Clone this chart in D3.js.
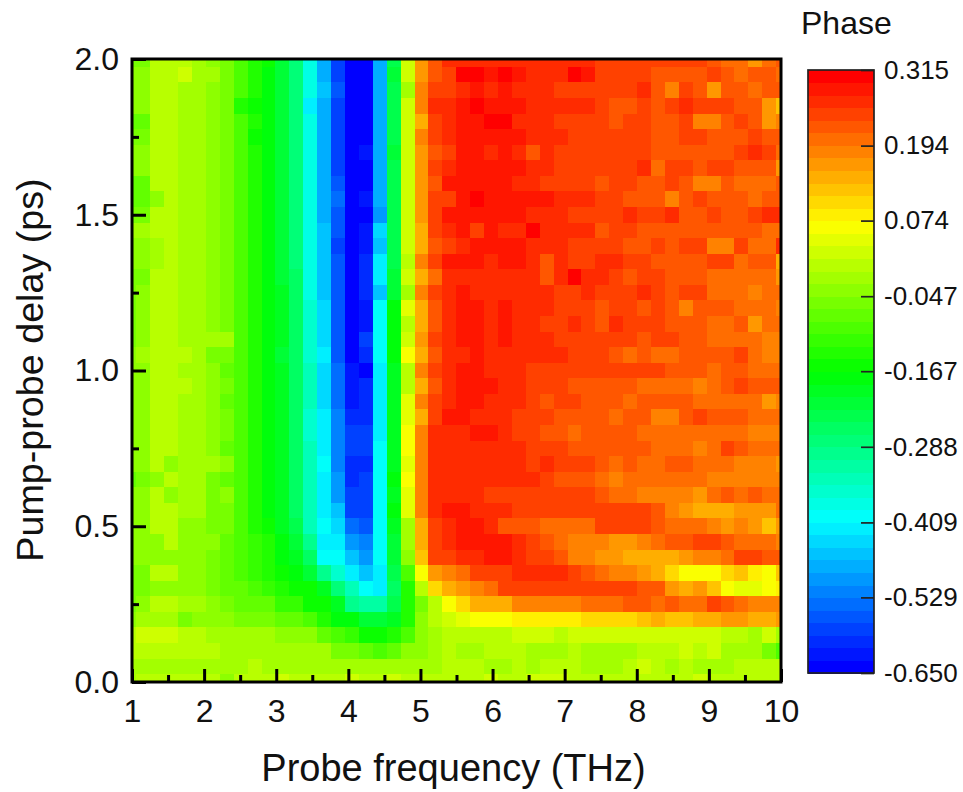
<!DOCTYPE html>
<html>

<head>
    <meta charset="utf-8">
    <title>Phase map</title>
    <script src="https://d3js.org/d3.v7.min.js"></script>
    <style>
        body {
            margin: 0;
            background: white;
        }

        text {
            font-family: "Liberation Sans", Arial, sans-serif;
            fill: #111;
        }
    </style>
</head>

<body>
    <svg id="chart" width="963" height="792"></svg>

    <script>
        // probe frequency of each column, THz
        const freq = [.965, 1.157, 1.350, 1.543, 1.736, 1.929, 2.122, 2.315, 2.507, 2.700, 2.893, 3.086,
            3.279, 3.472, 3.665, 3.858, 4.050, 4.243, 4.436, 4.629, 4.822, 5.015, 5.208, 5.400,
            5.593, 5.786, 5.979, 6.172, 6.365, 6.558, 6.750, 6.943, 7.136, 7.329, 7.522, 7.715,
            7.908, 8.100, 8.293, 8.486, 8.679, 8.872, 9.065, 9.258, 9.450, 9.643, 9.836, 10.029];

        // pump-probe delay of each row, ps, top row first
        const delay = [2, 1.95, 1.9, 1.85, 1.8, 1.75, 1.7, 1.65, 1.6, 1.55, 1.5, 1.45, 1.4, 1.35, 1.3, 1.25, 1.2,
            1.15, 1.1, 1.05, 1, .95, .9, .85, .8, .75, .7, .65, .6, .55, .5, .45, .4, .35, .3, .25, .2, .15, .1, .05, 0];

        // phase, one line per delay
        const phase = [
            [-.05, -.05, .01, .01, .01, -.01, -.03, -.05, -.09, -.13, -.15, -.21, -.27, -.37, -.47, -.57, -.63, -.63, -.47, -.23, .03, .17, .23, .27, .27, .27, .27, .27, .27, .27, .27, .27, .27, .27, .25, .25, .25, .25, .25, .25, .25, .25, .23, .21, .21, .17, .21, .23],
            [-.03, -.03, .01, .01, .03, -.01, -.01, -.05, -.09, -.13, -.17, -.21, -.27, -.37, -.47, -.57, -.65, -.65, -.47, -.21, .03, .17, .23, .25, .31, .31, .29, .31, .29, .27, .27, .27, .31, .29, .25, .25, .25, .25, .23, .23, .23, .23, .25, .23, .21, .23, .23, .21],
            [-.03, -.03, .01, .01, -.01, -.01, -.03, -.05, -.09, -.13, -.17, -.21, -.27, -.37, -.45, -.55, -.63, -.63, -.47, -.23, -.01, .19, .25, .25, .27, .29, .27, .29, .27, .27, .27, .25, .25, .25, .25, .25, .25, .27, .23, .19, .25, .23, .17, .23, .23, .21, .23, .23],
            [-.03, -.03, .01, .01, -.01, -.01, -.03, -.05, -.13, -.15, -.17, -.21, -.27, -.41, -.47, -.57, -.65, -.65, -.47, -.23, .03, .19, .27, .27, .29, .31, .29, .29, .29, .27, .27, .27, .27, .27, .25, .23, .23, .25, .23, .25, .27, .25, .25, .25, .23, .23, .17, .13],
            [-.07, -.07, .01, .01, -.01, -.01, -.03, -.05, -.09, -.13, -.17, -.21, -.27, -.37, -.47, -.57, -.65, -.65, -.47, -.23, .03, .15, .25, .27, .29, .29, .31, .31, .27, .27, .27, .25, .25, .25, .25, .23, .25, .25, .23, .23, .25, .19, .19, .23, .25, .23, .17, .19],
            [-.05, -.05, .01, .01, -.01, -.01, -.03, -.05, -.09, -.15, -.17, -.21, -.27, -.37, -.47, -.57, -.65, -.65, -.47, -.23, .03, .19, .25, .27, .29, .29, .29, .29, .29, .27, .27, .27, .25, .25, .25, .25, .25, .25, .23, .23, .25, .25, .23, .23, .23, .25, .23, .23],
            [-.03, -.03, .01, .01, -.01, -.01, -.03, -.05, -.09, -.13, -.17, -.21, -.27, -.37, -.47, -.57, -.65, -.61, -.47, -.21, .03, .17, .23, .25, .29, .29, .27, .29, .27, .23, .27, .25, .25, .25, .25, .25, .25, .25, .23, .23, .23, .23, .23, .23, .25, .27, .25, .21],
            [-.03, -.03, .01, .01, -.01, -.01, -.03, -.05, -.09, -.13, -.17, -.21, -.27, -.37, -.47, -.57, -.65, -.65, -.47, -.23, .03, .17, .25, .27, .29, .29, .29, .29, .29, .27, .27, .25, .25, .25, .25, .25, .25, .27, .21, .25, .25, .23, .25, .25, .23, .23, .23, .17],
            [-.07, -.07, .01, .01, -.01, -.01, -.03, -.05, -.09, -.13, -.17, -.21, -.27, -.37, -.47, -.55, -.63, -.63, -.47, -.23, .03, .17, .23, .29, .29, .29, .29, .29, .27, .27, .25, .25, .25, .25, .23, .25, .25, .23, .23, .25, .23, .19, .19, .23, .21, .21, .21, .23],
            [-.07, -.07, -.03, .01, -.01, -.01, -.03, -.05, -.09, -.13, -.17, -.21, -.27, -.37, -.47, -.53, -.65, -.61, -.47, -.23, .03, .17, .25, .25, .29, .31, .29, .29, .29, .29, .29, .27, .27, .27, .25, .25, .23, .23, .23, .19, .23, .25, .23, .23, .23, .21, .23, .23],
            [-.05, -.05, .01, .01, -.01, -.01, -.03, -.05, -.09, -.13, -.17, -.21, -.27, -.37, -.47, -.55, -.65, -.65, -.49, -.23, .03, .17, .25, .29, .29, .29, .29, .29, .29, .27, .27, .27, .25, .25, .25, .25, .27, .25, .25, .27, .23, .23, .25, .23, .23, .25, .27, .27],
            [-.01, -.01, .01, .01, -.01, -.01, -.03, -.05, -.09, -.13, -.17, -.21, -.27, -.37, -.45, -.55, -.63, -.61, -.43, -.23, .03, .15, .25, .27, .29, .25, .29, .27, .27, .31, .27, .27, .27, .27, .23, .25, .25, .23, .23, .23, .23, .23, .23, .23, .23, .23, .21, .21],
            [-.03, -.03, -.01, .01, -.01, -.01, -.03, -.05, -.09, -.13, -.17, -.21, -.27, -.37, -.45, -.57, -.63, -.61, -.45, -.23, .03, .15, .23, .25, .27, .29, .29, .29, .29, .27, .27, .27, .25, .25, .25, .25, .23, .23, .25, .23, .25, .25, .19, .19, .25, .21, .21, .27],
            [-.03, -.03, -.01, .01, -.01, -.01, -.03, -.05, -.09, -.13, -.17, -.21, -.27, -.37, -.45, -.55, -.63, -.59, -.41, -.23, .01, .19, .25, .29, .29, .29, .27, .29, .29, .27, .23, .27, .25, .25, .27, .27, .25, .25, .23, .23, .23, .23, .25, .25, .21, .23, .23, .15],
            [-.05, -.05, .01, .01, -.01, -.01, -.03, -.05, -.09, -.13, -.17, -.21, -.25, -.37, -.45, -.55, -.63, -.59, -.41, -.21, .03, .15, .21, .27, .27, .27, .27, .27, .27, .27, .23, .27, .31, .27, .27, .25, .23, .25, .25, .23, .23, .23, .21, .21, .21, .21, .21, .17],
            [-.05, -.03, .01, .01, -.01, -.01, -.03, -.05, -.09, -.13, -.17, -.19, -.25, -.37, -.45, -.55, -.65, -.59, -.45, -.21, -.01, .19, .25, .27, .29, .27, .27, .27, .27, .27, .27, .25, .25, .27, .25, .25, .25, .27, .25, .23, .25, .25, .21, .21, .21, .19, .21, .21],
            [-.05, -.03, .01, .01, -.01, -.01, -.03, -.05, -.09, -.13, -.17, -.19, -.25, -.35, -.43, -.55, -.65, -.61, -.39, -.17, .05, .15, .23, .27, .29, .29, .27, .29, .27, .27, .27, .25, .25, .25, .23, .25, .25, .23, .25, .23, .19, .23, .23, .23, .21, .21, .21, .19],
            [-.05, -.03, .01, .01, -.01, -.01, -.03, -.05, -.09, -.13, -.17, -.19, -.25, -.35, -.43, -.55, -.65, -.61, -.39, -.17, .01, .15, .23, .27, .29, .29, .27, .29, .27, .27, .25, .25, .27, .25, .23, .27, .25, .25, .25, .23, .23, .23, .21, .21, .23, .17, .21, .21],
            [-.05, -.03, .01, .01, -.01, -.01, -.01, -.01, -.09, -.13, -.17, -.19, -.25, -.35, -.43, -.55, -.63, -.57, -.39, -.17, .03, .17, .25, .27, .29, .29, .27, .29, .27, .27, .27, .25, .25, .25, .25, .25, .25, .23, .25, .25, .23, .23, .21, .21, .21, .21, .19, .19],
            [-.03, -.01, .01, .01, .01, -.01, -.05, -.05, -.09, -.13, -.17, -.21, -.25, -.35, -.41, -.55, -.63, -.59, -.39, -.17, .07, .15, .23, .27, .27, .29, .27, .27, .27, .27, .27, .27, .25, .25, .25, .23, .21, .23, .21, .21, .23, .23, .23, .23, .25, .21, .19, .19],
            [-.03, -.03, .01, .01, -.01, -.01, -.03, -.07, -.09, -.13, -.17, -.19, -.25, -.33, -.43, -.53, -.61, -.63, -.41, -.19, .01, .19, .25, .27, .29, .29, .27, .27, .27, .25, .25, .25, .25, .25, .25, .25, .25, .25, .25, .23, .23, .23, .21, .23, .23, .21, .21, .21],
            [-.03, -.03, .01, .01, .01, -.01, -.03, -.05, -.09, -.13, -.17, -.19, -.25, -.33, -.43, -.53, -.61, -.59, -.41, -.19, .01, .15, .23, .27, .29, .29, .29, .27, .27, .25, .25, .25, .23, .23, .23, .23, .23, .21, .21, .21, .21, .19, .21, .23, .25, .23, .23, .23],
            [-.03, -.03, .01, .01, -.01, -.01, -.03, -.07, -.09, -.13, -.17, -.19, -.25, -.33, -.43, -.53, -.61, -.59, -.41, -.19, .05, .19, .25, .27, .29, .29, .27, .27, .27, .25, .23, .25, .25, .23, .23, .23, .21, .23, .23, .23, .23, .21, .21, .21, .21, .21, .17, .19],
            [-.03, -.03, .01, .01, -.01, -.01, -.03, -.05, -.09, -.13, -.17, -.19, -.25, -.35, -.41, -.51, -.59, -.59, -.41, -.19, .05, .15, .25, .29, .29, .27, .27, .27, .25, .25, .25, .23, .23, .23, .23, .21, .23, .23, .19, .19, .23, .25, .23, .23, .23, .21, .21, .21],
            [-.03, -.03, .01, .01, -.01, -.01, -.03, -.05, -.09, -.13, -.17, -.19, -.25, -.35, -.41, -.51, -.57, -.57, -.41, -.19, .07, .19, .27, .27, .27, .29, .29, .27, .25, .25, .23, .23, .21, .23, .23, .23, .23, .21, .21, .21, .21, .21, .21, .21, .21, .19, .19, .19],
            [-.03, -.03, .01, .01, -.01, -.01, -.03, -.07, -.09, -.13, -.17, -.19, -.25, -.33, -.41, -.51, -.57, -.57, -.39, -.19, .07, .19, .27, .27, .27, .27, .27, .27, .27, .25, .25, .25, .23, .23, .23, .23, .23, .23, .21, .21, .21, .19, .21, .25, .23, .21, .21, .21],
            [-.03, -.03, .01, -.03, -.01, -.01, -.01, -.03, -.09, -.13, -.17, -.19, -.25, -.33, -.39, -.51, -.59, -.59, -.39, -.19, .05, .19, .27, .27, .27, .27, .27, .27, .27, .25, .27, .25, .25, .25, .23, .21, .23, .21, .21, .23, .23, .21, .21, .21, .19, .19, .19, .17],
            [-.07, -.05, -.03, .01, -.01, -.01, -.05, -.07, -.09, -.13, -.17, -.19, -.25, -.33, -.41, -.49, -.59, -.57, -.39, -.17, .07, .19, .27, .27, .27, .27, .27, .27, .27, .27, .25, .23, .23, .23, .21, .19, .21, .21, .21, .21, .21, .21, .19, .19, .19, .19, .19, .19],
            [-.03, -.03, .01, -.03, -.01, -.01, -.05, -.03, -.09, -.13, -.17, -.19, -.25, -.33, -.41, -.49, -.57, -.57, -.39, -.19, .05, .19, .27, .27, .27, .27, .25, .25, .25, .25, .25, .25, .25, .25, .23, .21, .21, .19, .19, .19, .19, .17, .21, .23, .21, .23, .21, .21],
            [-.03, -.03, .01, .01, -.01, -.01, -.05, -.05, -.09, -.13, -.17, -.19, -.25, -.33, -.41, -.45, -.57, -.57, -.39, -.17, .05, .19, .27, .29, .29, .27, .27, .27, .25, .25, .25, .25, .25, .25, .25, .25, .25, .25, .23, .19, .17, .15, .15, .15, .17, .17, .17, .21],
            [-.03, -.03, .01, .01, -.03, -.03, -.05, -.05, -.09, -.13, -.15, -.19, -.23, -.33, -.39, -.43, -.53, -.55, -.39, -.19, -.01, .15, .25, .27, .29, .29, .27, .23, .23, .23, .21, .21, .21, .21, .25, .25, .25, .25, .23, .21, .21, .21, .19, .17, .19, .17, .13, .17],
            [-.03, -.03, -.03, .01, -.03, -.03, -.03, -.07, -.09, -.11, -.13, -.17, -.21, -.29, -.41, -.41, -.49, -.51, -.39, -.21, -.01, .15, .25, .27, .29, .29, .29, .29, .27, .25, .23, .21, .19, .19, .19, .17, .17, .19, .21, .23, .23, .25, .25, .23, .21, .21, .21, .19],
            [-.03, -.03, -.03, -.03, -.03, -.03, -.05, -.07, -.09, -.11, -.13, -.17, -.19, -.25, -.39, -.39, -.45, -.49, -.39, -.21, -.03, .13, .25, .25, .27, .27, .29, .29, .27, .25, .25, .23, .19, .19, .17, .17, .15, .15, .15, .15, .17, .19, .19, .21, .25, .25, .23, .23],
            [-.05, -.05, .01, .01, -.03, -.03, -.05, -.07, -.09, -.11, -.13, -.15, -.17, -.21, -.29, -.35, -.41, -.45, -.41, -.23, -.09, .07, .17, .19, .21, .25, .25, .25, .27, .27, .27, .27, .25, .23, .21, .19, .19, .17, .15, .11, .07, .07, .07, .11, .13, .09, .07, .13],
            [-.05, -.05, -.03, -.03, -.03, -.03, -.05, -.07, -.07, -.09, -.11, -.13, -.15, -.15, -.19, -.27, -.33, -.39, -.41, -.25, -.13, .01, .11, .15, .17, .19, .21, .25, .25, .25, .25, .25, .25, .25, .25, .25, .25, .23, .23, .17, .15, .17, .13, .07, .05, .05, .07, .09],
            [-.05, -.03, .01, .01, -.01, -.01, -.03, -.05, -.07, -.07, -.07, -.11, -.11, -.15, -.15, -.19, -.29, -.31, -.31, -.23, -.13, -.05, .01, .07, .11, .15, .15, .15, .19, .19, .19, .19, .19, .21, .21, .21, .23, .23, .21, .23, .21, .21, .25, .23, .21, .19, .19, .19],
            [-.03, -.01, -.01, -.01, -.05, -.03, -.03, -.03, -.05, -.05, -.05, -.07, -.07, -.09, -.13, -.17, -.17, -.21, -.21, -.19, -.13, -.03, .01, .03, .05, .07, .07, .07, .09, .09, .09, .09, .09, .11, .11, .11, .11, .13, .15, .13, .13, .15, .15, .17, .17, .15, .15, .17],
            [.01, .03, .03, .03, .01, .01, -.01, -.01, -.01, -.01, -.01, -.03, -.03, -.03, -.07, -.09, -.11, -.15, -.15, -.13, -.09, -.03, -.01, .01, .01, .01, .01, .01, .03, .03, .03, .01, .03, .03, .03, .03, .03, .03, .03, .03, .03, .03, .03, .01, .01, -.01, .03, -.01],
            [.01, .01, .01, .01, .01, .01, .01, -.01, -.01, -.01, -.01, -.01, -.01, -.01, -.01, -.05, -.05, -.07, -.09, -.07, -.03, -.03, -.01, .01, -.01, -.01, .01, .01, .01, -.01, -.01, -.01, .01, -.01, -.01, -.01, -.01, .01, .01, .01, .03, .01, .03, -.01, -.01, -.01, -.05, -.09],
            [-.01, -.01, -.01, -.01, -.01, -.01, -.01, -.01, -.01, .01, -.01, -.01, -.01, -.01, -.01, -.01, -.01, -.01, -.01, -.01, -.01, -.01, -.01, .01, .01, .01, -.01, -.01, .01, -.01, .01, .01, .01, -.01, -.01, -.01, .01, .03, .01, -.01, .01, -.01, -.01, -.01, .01, .01, .01, .01],
            [-.01, .01, .01, .01, .01, .01, .01, -.03, .01, .01, .01, .03, .01, .01, .01, .01, .03, .01, .01, .03, .01, .01, .01, .01, .01, .01, .03, .01, .01, .03, .03, .03, .01, .01, .01, .01, .01, .01, .01, .01, .01, .03, .01, .01, .01, .01, .01, .01]
        ];

        const xTicks = [1, 2, 3, 4, 5, 6, 7, 8, 9, 10];
        const xMinorTicks = [1.5, 2.5, 3.5, 4.5, 5.5, 6.5, 7.5, 8.5, 9.5];
        const yTicks = [0, .5, 1, 1.5, 2];
        const yMinorTicks = [.25, .75, 1.25, 1.75];
        const barTicks = [.315, .194, .074, -.047, -.167, -.288, -.409, -.529, -.650];
        const phaseRange = [-.650, .315];
        const levelCount = 48;

        const svg = d3.select("#chart");

        const x = d3.scaleLinear().domain([1, 10]).range([132, 781]);
        const y = d3.scaleLinear().domain([0, 2]).range([682, 59]);
        const barY = d3.scaleLinear().domain(phaseRange).range([673, 70]);

        // blue - cyan - green - yellow - red, cut in flat levels like the original
        const rainbow = d3.piecewise(d3.interpolateRgb, ["#0000ff", "#00ffff", "#00ff00", "#ffff00", "#ff0000"]);
        const levels = d3.quantize(rainbow, levelCount);
        const color = d3.scaleQuantize().domain(phaseRange).range(levels);

        // cell edges sit halfway between neighbouring grid points
        function edges(list, scale) {
            const out = [];
            for (let i = 0; i <= list.length; i++) {
                const a = list[Math.max(i - 1, 0)];
                const b = list[Math.min(i, list.length - 1)];
                out.push(scale((a + b) / 2));
            }
            return out;
        }
        const xEdges = edges(freq, x);
        const yEdges = edges(delay, y);

        svg.append("clipPath").attr("id", "plotClip")
            .append("rect")
            .attr("x", 132).attr("y", 59).attr("width", 649).attr("height", 623);

        const cells = [];
        phase.forEach((row, r) => row.forEach((v, c) => cells.push({ r, c, v })));

        svg.append("g").attr("clip-path", "url(#plotClip)")
            .attr("shape-rendering", "crispEdges")
            .selectAll("rect")
            .data(cells)
            .enter().append("rect")
            .attr("x", d => xEdges[d.c])
            .attr("y", d => yEdges[d.r])
            .attr("width", d => xEdges[d.c + 1] - xEdges[d.c] + .5)
            .attr("height", d => yEdges[d.r + 1] - yEdges[d.r] + .5)
            .attr("fill", d => color(d.v));

        // axes: ticks point into the plot
        function drawAxis(axis, translate, fontSize) {
            const g = svg.append("g").attr("transform", translate).call(axis);
            g.select(".domain").remove();
            g.selectAll("line").attr("stroke", "#000").attr("stroke-width", 3);
            g.selectAll("text").style("font-size", fontSize + "px").attr("fill", "#111");
            return g;
        }

        drawAxis(d3.axisBottom(x).tickValues(xMinorTicks).tickSize(-7).tickFormat(""), "translate(0,682)", 32);
        drawAxis(d3.axisLeft(y).tickValues(yMinorTicks).tickSize(-7).tickFormat(""), "translate(132,0)", 32);
        drawAxis(d3.axisBottom(x).tickValues(xTicks).tickSize(-13).tickPadding(17).tickFormat(d3.format("d")), "translate(0,682)", 32);
        drawAxis(d3.axisLeft(y).tickValues(yTicks).tickSize(-14).tickPadding(13).tickFormat(d3.format(".1f")), "translate(132,0)", 32);

        svg.append("rect")
            .attr("x", 132).attr("y", 59).attr("width", 649).attr("height", 623)
            .attr("fill", "none").attr("stroke", "#000").attr("stroke-width", 3);

        svg.append("text")
            .attr("x", 453.5).attr("y", 781)
            .attr("text-anchor", "middle")
            .style("font-size", "38px")
            .text("Probe frequency (THz)");

        svg.append("text")
            .attr("transform", "translate(43,370) rotate(-90)")
            .attr("text-anchor", "middle")
            .style("font-size", "37.7px")
            .text("Pump-probe delay (ps)");

        // colour bar
        const bandH = (barY(phaseRange[0]) - barY(phaseRange[1])) / levelCount;
        svg.append("g").attr("shape-rendering", "crispEdges")
            .selectAll("rect")
            .data(levels)
            .enter().append("rect")
            .attr("x", 808)
            .attr("y", (d, i) => barY(phaseRange[0]) - (i + 1) * bandH)
            .attr("width", 66)
            .attr("height", bandH + .5)
            .attr("fill", d => d);

        const barAxis = d3.axisRight(barY).tickValues(barTicks).tickSize(-13).tickPadding(10).tickFormat(d => d.toFixed(3));
        const barG = svg.append("g").attr("transform", "translate(874,0)").call(barAxis);
        barG.select(".domain").remove();
        barG.selectAll("line").attr("stroke", "#222").attr("stroke-width", 1.7);
        barG.selectAll("text").style("font-size", "26px").attr("fill", "#111");

        svg.append("rect")
            .attr("x", 808).attr("y", 70).attr("width", 66).attr("height", 603)
            .attr("fill", "none").attr("stroke", "#222").attr("stroke-width", 1.7);

        svg.append("text")
            .attr("x", 801).attr("y", 34)
            .style("font-size", "32px")
            .text("Phase");
    </script>
</body>

</html>
